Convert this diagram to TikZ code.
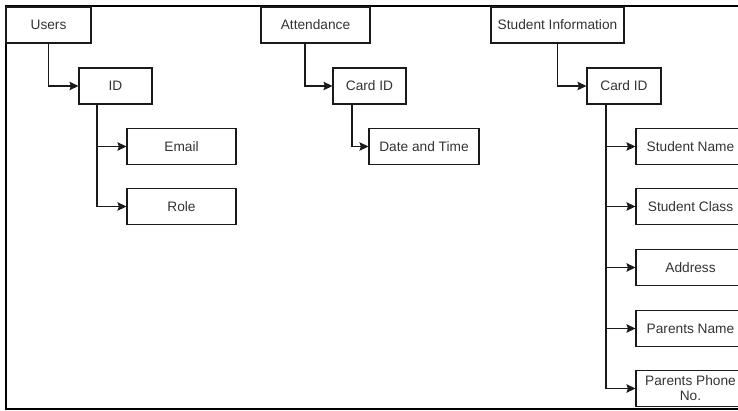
\documentclass[tikz,border=0pt]{standalone}
\usepackage{fontspec}
\setmainfont{Liberation Sans}
\usetikzlibrary{arrows.meta}
\definecolor{txtgray}{HTML}{333333}
\definecolor{linegray}{HTML}{1A1A1A}
\tikzset{
  box/.style={draw=linegray,line width=1.1pt,minimum height=36pt,inner sep=1pt,
    text=txtgray,font=\fontsize{13.7}{15}\selectfont,align=center},
  link/.style={draw=linegray,line width=1.1pt,-{Stealth[length=9pt,width=8.5pt,inset=1.5pt]}},
  frame/.style={draw=black,line width=2pt}
}
\begin{document}
\begin{tikzpicture}[x=1pt,y=-1pt]
\useasboundingbox (0,0) rectangle (738,410);
\clip (0,0) rectangle (738,410);
\draw[frame] (5.5,6) rectangle (760,408.5);
\node[box,minimum width=85pt] (users) at (48.5,25) {Users};
\node[box,minimum width=73pt] (id) at (115.5,86) {ID};
\node[box,minimum width=109pt] (email) at (181.5,146.5) {Email};
\node[box,minimum width=109pt] (role) at (181.5,206.5) {Role};
\node[box,minimum width=109pt] (att) at (315.5,25) {Attendance};
\node[box,minimum width=73pt] (cardA) at (369.5,86) {Card ID};
\node[box,minimum width=110pt] (date) at (424,146.5) {Date and Time};
\node[box,minimum width=133pt] (info) at (557.5,25) {Student Information};
\node[box,minimum width=74pt] (cardS) at (624,86) {Card ID};
\node[box,minimum width=109pt] (sname) at (690.5,146.5) {Student Name};
\node[box,minimum width=109pt] (sclass) at (690.5,206.5) {Student Class};
\node[box,minimum width=109pt] (addr) at (690.5,267.5) {Address};
\node[box,minimum width=109pt] (pname) at (690.5,328.5) {Parents Name};
\node[box,minimum width=109pt] (phone) at (690.5,388.5) {Parents Phone\\No.};
\draw[link] (users.south) |- (id.west);
\draw[link] ([xshift=-18.5]id.south) |- (email.west);
\draw[link] ([xshift=-18.5]id.south) |- (role.west);
\draw[link] ([xshift=-10.5]att.south) |- (cardA.west);
\draw[link] ([xshift=-17.5]cardA.south) |- (date.west);
\draw[link] (info.south) |- (cardS.west);
\draw[link] ([xshift=-18]cardS.south) |- (sname.west);
\draw[link] ([xshift=-18]cardS.south) |- (sclass.west);
\draw[link] ([xshift=-18]cardS.south) |- (addr.west);
\draw[link] ([xshift=-18]cardS.south) |- (pname.west);
\draw[link] ([xshift=-18]cardS.south) |- (phone.west);
\end{tikzpicture}
\end{document}
